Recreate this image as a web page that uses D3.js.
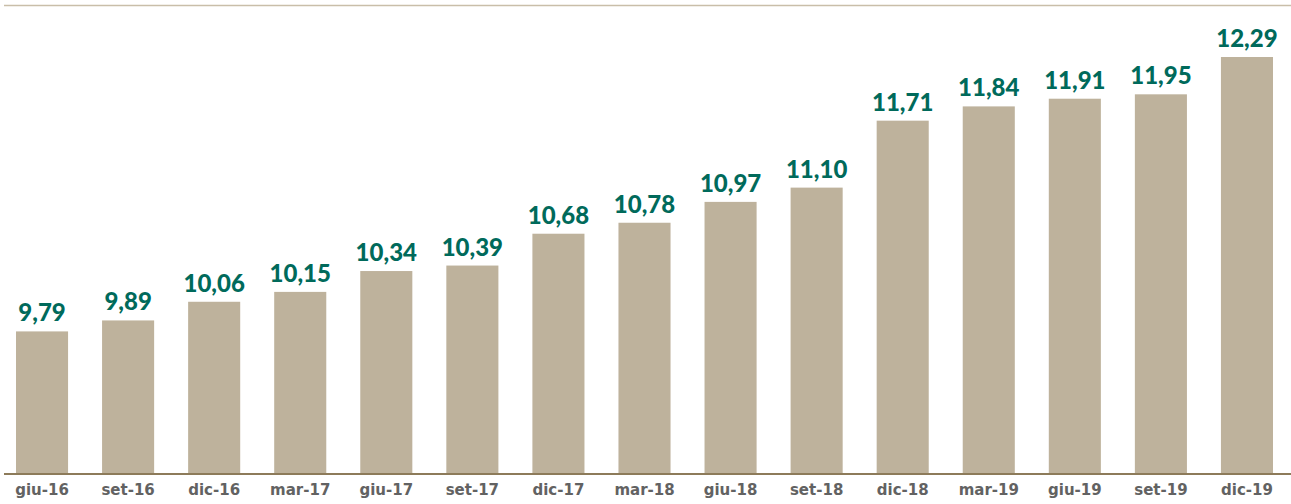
<!DOCTYPE html>
<html>
<head>
<meta charset="utf-8">
<script src="https://cdn.jsdelivr.net/npm/d3@7"></script>
<style>
  body { margin: 0; background: #fff; }
  svg { display: block; }
</style>
</head>
<body>
<svg id="chart" width="1291" height="504"></svg>
<script>
// quarterly values
var periods = ['giu-16', 'set-16', 'dic-16', 'mar-17', 'giu-17', 'set-17', 'dic-17',
               'mar-18', 'giu-18', 'set-18', 'dic-18', 'mar-19', 'giu-19', 'set-19', 'dic-19'];
var values = [9.79, 9.89, 10.06, 10.15, 10.34, 10.39, 10.68,
              10.78, 10.97, 11.10, 11.71, 11.84, 11.91, 11.95, 12.29];

var svg = d3.select('#chart'),
    width = 1291,
    baseY = 473;

var x = d3.scaleBand()
    .domain(periods)
    .range([-1, 1290])
    .paddingInner(0.395)
    .paddingOuter(0.1975);

var y = d3.scaleLinear()
    .domain([8.5, 12.29])
    .range([baseY, 57]);

var fmt = function (v) { return d3.format('.2f')(v).replace('.', ','); };

// top rule
svg.append('line')
    .attr('x1', 4).attr('x2', width)
    .attr('y1', 5.5).attr('y2', 5.5)
    .attr('stroke', '#c9bea9')
    .attr('stroke-width', 1.5);

svg.selectAll('rect.bar')
    .data(values)
    .enter().append('rect')
    .attr('class', 'bar')
    .attr('x', function (d, i) { return x(periods[i]); })
    .attr('width', x.bandwidth())
    .attr('y', function (d) { return y(d); })
    .attr('height', function (d) { return baseY - y(d); })
    .attr('fill', '#beb29c');

svg.selectAll('text.val')
    .data(values)
    .enter().append('text')
    .attr('class', 'val')
    .attr('x', function (d, i) { return x(periods[i]) + x.bandwidth() / 2; })
    .attr('y', function (d) { return y(d) - 10; })
    .attr('text-anchor', 'middle')
    .style('font-family', 'Lato, sans-serif')
    .style('font-weight', 900)
    .style('font-size', '24px')
    .style('fill', '#006a5b')
    .text(fmt);

// x axis
var xAxis = d3.axisBottom(x).tickSize(0).tickPadding(0);
var gx = svg.append('g')
    .attr('transform', 'translate(0,' + baseY + ')')
    .call(xAxis);
gx.select('.domain').remove();
gx.selectAll('text')
    .attr('dy', null)
    .attr('y', 22)
    .style('font-family', '"DejaVu Sans", sans-serif')
    .style('font-weight', 'bold')
    .style('font-size', '15px')
    .style('fill', '#626262');

svg.append('line')
    .attr('x1', 4).attr('x2', width)
    .attr('y1', baseY + 1).attr('y2', baseY + 1)
    .attr('stroke', '#8d7b5a')
    .attr('stroke-width', 2);
</script>
</body>
</html>
